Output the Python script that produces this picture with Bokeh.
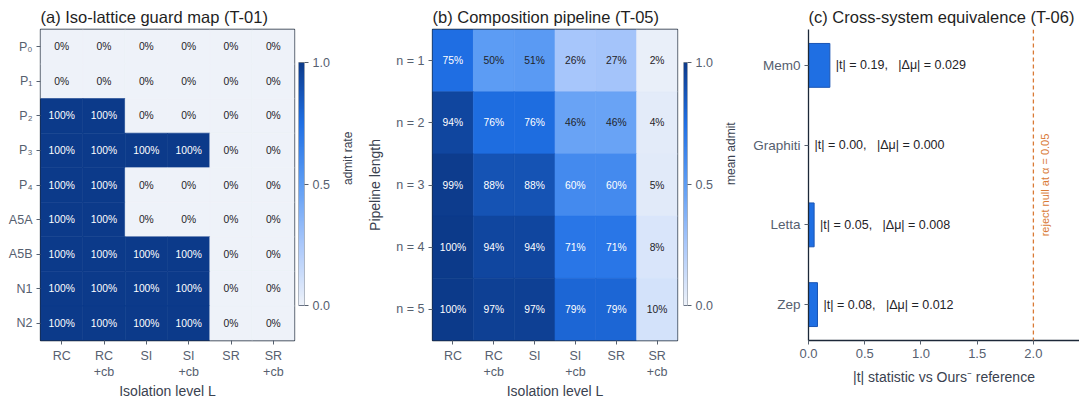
import math
import numpy as np
from bokeh.plotting import figure
from bokeh.layouts import row
from bokeh.models import (FactorRange, Range1d, LinearColorMapper, ColumnDataSource,
                          FixedTicker, Span, NumeralTickFormatter)
from bokeh.core.properties import value
from bokeh.embed import file_html
from bokeh.resources import INLINE

# ---------------- data ----------------
levels = ["RC", "RC\n+cb", "SI", "SI\n+cb", "SR", "SR\n+cb"]

guard_rows = ["P₀", "P₁", "P₂", "P₃", "P₄", "A5A", "A5B", "N1", "N2"]
guard_admit = [
    [0, 0, 0, 0, 0, 0],
    [0, 0, 0, 0, 0, 0],
    [1, 1, 0, 0, 0, 0],
    [1, 1, 1, 1, 0, 0],
    [1, 1, 0, 0, 0, 0],
    [1, 1, 0, 0, 0, 0],
    [1, 1, 1, 1, 0, 0],
    [1, 1, 1, 1, 0, 0],
    [1, 1, 1, 1, 0, 0],
]

pipe_rows = ["n = 1", "n = 2", "n = 3", "n = 4", "n = 5"]
pipe_admit = [
    [0.75, 0.50, 0.51, 0.26, 0.27, 0.02],
    [0.94, 0.76, 0.76, 0.46, 0.46, 0.04],
    [0.99, 0.88, 0.88, 0.60, 0.60, 0.05],
    [1.00, 0.94, 0.94, 0.71, 0.71, 0.08],
    [1.00, 0.97, 0.97, 0.79, 0.79, 0.10],
]

systems = ["Mem0", "Graphiti", "Letta", "Zep"]
t_stat = [0.19, 0.00, 0.05, 0.08]
delta_mu = [0.029, 0.000, 0.008, 0.012]
alpha_threshold = 2.0
cbar_ticks = [0.0, 0.5, 1.0]
x_ticks_c = [0.0, 0.5, 1.0, 1.5, 2.0]

# ---------------- style ----------------
FONT = "Liberation Sans"
TICK_C = "#56606f"
LABEL_C = "#3a4250"
TITLE_C = "#1f1f1f"
FRAME_C = "#1c2838"
ORANGE = "#d97a36"
BAR_FILL = "#1f6fe3"
BAR_LINE = "#1a55b5"
H = 402
TOP = 29
BOTTOM = 62


def make_palette():
    anchors = [(0.0, (238, 242, 249)), (0.25, (170, 200, 251)), (0.5, (92, 156, 244)),
               (0.75, (31, 111, 228)), (1.0, (12, 58, 138))]
    pal = []
    for i in range(256):
        v = i / 255
        for (a, ca), (b, cb) in zip(anchors, anchors[1:]):
            if a <= v <= b:
                t = (v - a) / (b - a)
                c = tuple(int(round(ca[k] + t * (cb[k] - ca[k]))) for k in range(3))
                break
        pal.append("#%02x%02x%02x" % c)
    return pal


mapper = LinearColorMapper(palette=make_palette(), low=0, high=1)


def style_axes(p):
    p.grid.visible = False
    for ax in p.axis:
        ax.major_tick_out = 4
        ax.major_tick_in = 0
        ax.minor_tick_line_color = None
        ax.major_tick_line_color = TICK_C
        ax.major_label_text_color = TICK_C
        ax.major_label_text_font = FONT
        ax.major_label_text_font_size = "12.5px"
        ax.major_label_standoff = 4
        ax.axis_label_text_font = FONT
        ax.axis_label_text_font_style = "normal"
        ax.axis_label_text_color = LABEL_C
        ax.axis_label_text_font_size = "14px"
    p.title.text_font = FONT
    p.title.text_font_style = "normal"
    p.title.text_font_size = "16.5px"
    p.title.text_color = TITLE_C
    p.title.standoff = 8


def heatmap(title, rows, vals, width, min_left, ylabel=None):
    xs, ys, v, txt, tc = [], [], [], [], []
    for r, rv in zip(rows, vals):
        for c, val in zip(levels, rv):
            xs.append(c)
            ys.append(r)
            v.append(val)
            txt.append("%d%%" % round(val * 100))
            tc.append("#ffffff" if val >= 0.55 else "#1f2328")
    src = ColumnDataSource(dict(x=xs, y=ys, v=v, txt=txt, tc=tc))
    p = figure(x_range=FactorRange(*levels), y_range=FactorRange(*reversed(rows)),
               width=width, height=H, output_backend="svg", toolbar_location=None,
               min_border_left=min_left, min_border_right=2, min_border_top=TOP,
               min_border_bottom=BOTTOM, title=title)
    p.rect(x="x", y="y", width=1, height=1, source=src,
           fill_color={"field": "v", "transform": mapper},
           line_color={"field": "v", "transform": mapper}, line_width=0.6)
    p.text(x="x", y="y", text="txt", text_color="tc", text_align="center",
           text_baseline="middle", text_font=value(FONT), text_font_size="10.3px", source=src)
    style_axes(p)
    p.axis.axis_line_color = None
    p.outline_line_color = FRAME_C
    p.outline_line_width = 1.3
    p.xaxis.axis_label = "Isolation level L"
    p.xaxis.axis_label_standoff = 1
    p.xaxis.major_label_standoff = 4
    if ylabel:
        p.yaxis.axis_label = ylabel
        p.yaxis.axis_label_standoff = 10
    return p


def colorbar_fig(label, width, left, right):
    # bar spans data 0..1; padding outside keeps it shorter than the heatmap frame
    p = figure(width=width, height=H, x_range=Range1d(0, 1), y_range=Range1d(-0.144, 1.136),
               output_backend="svg", toolbar_location=None, min_border_left=left,
               min_border_right=right, min_border_top=TOP, min_border_bottom=BOTTOM,
               y_axis_location="right", x_axis_location=None)
    p.image(image=[np.linspace(0, 1, 256).reshape(256, 1)], x=0, y=0, dw=1, dh=1,
            color_mapper=mapper)
    p.quad(left=0, right=1, bottom=0, top=1, fill_color=None, line_color="#6b7688",
           line_width=1)
    style_axes(p)
    p.yaxis.ticker = FixedTicker(ticks=cbar_ticks)
    p.yaxis.formatter = NumeralTickFormatter(format="0.0")
    p.yaxis.axis_line_color = None
    p.yaxis.major_label_text_font_size = "12.5px"
    p.yaxis.axis_label = label
    p.yaxis.axis_label_text_font_size = "12px"
    p.yaxis.axis_label_standoff = 15
    p.yaxis.axis_label_orientation = math.pi / 2
    p.outline_line_color = None
    return p


pa = heatmap("(a) Iso-lattice guard map (T-01)", guard_rows, guard_admit, 296, 40)
ca = colorbar_fig("admit rate", 68, 2, 54)
pb = heatmap("(b) Composition pipeline (T-05)", pipe_rows, pipe_admit, 315, 60,
             ylabel="Pipeline length")
cb = colorbar_fig("mean admit", 68, 4, 52)

# ---------------- panel (c) ----------------
ypos = [len(systems) - 1 - i for i in range(len(systems))]
GAP = "\u00a0" * 3
labels = ["|t| = %.2f,%s|Δμ| = %.3f" % (t, GAP, d) for t, d in zip(t_stat, delta_mu)]
srcc = ColumnDataSource(dict(y=ypos, t=t_stat, lab=labels))
pc = figure(width=332, height=H, x_range=Range1d(0, 2.41), y_range=Range1d(-0.45, 3.45),
            output_backend="svg", toolbar_location=None, min_border_left=61,
            min_border_right=0, min_border_top=TOP, min_border_bottom=BOTTOM,
            title="(c) Cross-system equivalence (T-06)")
pc.hbar(y="y", left=0, right="t", height=0.55, fill_color=BAR_FILL, line_color=BAR_LINE,
        line_width=1, source=srcc)
pc.text(x="t", y="y", text="lab", x_offset=6, text_baseline="middle", text_align="left",
        text_font=value(FONT), text_font_size="12.5px", text_color="#1f2328", source=srcc)
pc.add_layout(Span(location=alpha_threshold, dimension="height", line_color=ORANGE,
                   line_dash="4 3", line_width=1.3))
pc.text(x=[alpha_threshold], y=[1.5], text=["reject null at α = 0.05"], angle=math.pi / 2,
        text_align="center", text_baseline="top", x_offset=6, text_color=ORANGE,
        text_font=value(FONT), text_font_size="11px")
style_axes(pc)
pc.outline_line_color = None
pc.axis.axis_line_color = FRAME_C
pc.axis.axis_line_width = 1.3
pc.yaxis.ticker = FixedTicker(ticks=ypos)
pc.yaxis.major_label_overrides = {y: s for y, s in zip(ypos, systems)}
pc.yaxis.major_label_text_font_size = "13.5px"
pc.xaxis.ticker = FixedTicker(ticks=x_ticks_c)
pc.xaxis.formatter = NumeralTickFormatter(format="0.0")
pc.xaxis.major_label_text_font_size = "13px"
pc.xaxis.axis_label = "|t| statistic vs Ours⁻ reference"
pc.xaxis.axis_label_standoff = 8

layout = row(pa, ca, pb, cb, pc)
open("out.html", "w").write(file_html(layout, INLINE))
